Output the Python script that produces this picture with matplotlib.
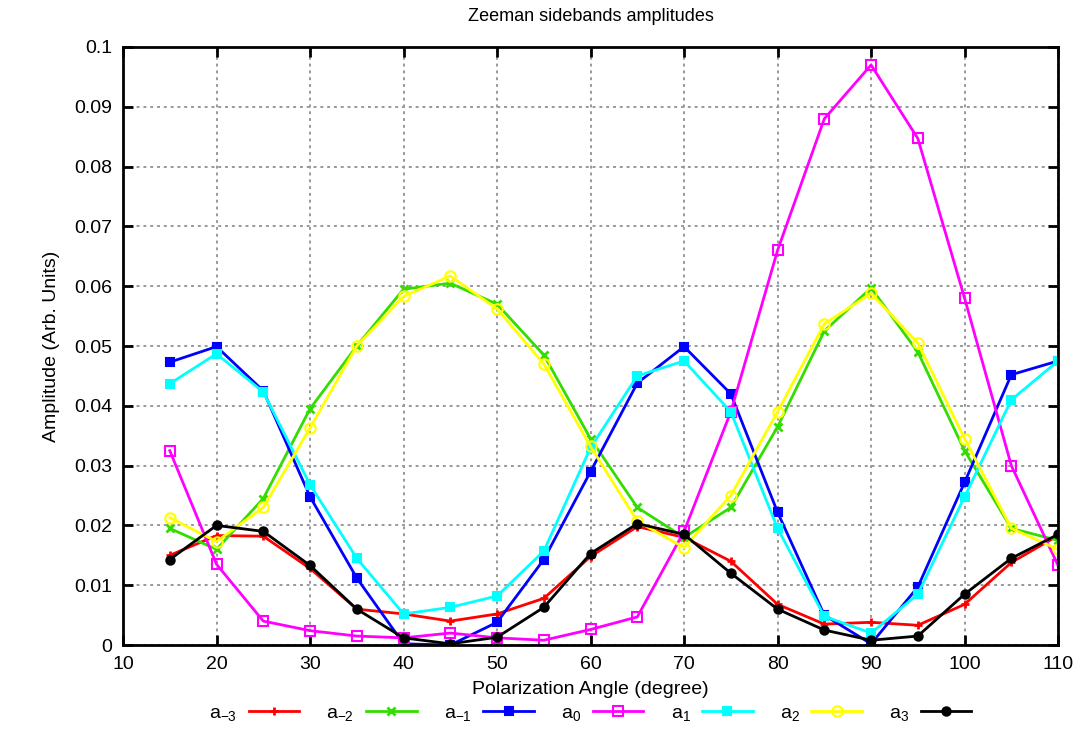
import matplotlib
matplotlib.use("Agg")
import matplotlib.pyplot as plt

plt.rcParams['font.family'] = ['Liberation Sans', 'DejaVu Sans']
plt.rcParams['mathtext.fontset'] = 'custom'
plt.rcParams['mathtext.rm'] = 'Liberation Sans'
plt.rcParams['mathtext.it'] = 'Liberation Sans'

angles = [15, 20, 25, 30, 35, 40, 45, 50, 55, 60, 65, 70, 75, 80, 85, 90, 95, 100, 105, 110]

a_m3 = [0.0150, 0.0183, 0.0182, 0.0128, 0.0060, 0.0052, 0.0040, 0.0052, 0.0078, 0.0148,
        0.0198, 0.0180, 0.0140, 0.0068, 0.0035, 0.0038, 0.0033, 0.0068, 0.0138, 0.0183]
a_m2 = [0.0195, 0.0160, 0.0245, 0.0395, 0.0500, 0.0595, 0.0605, 0.0570, 0.0485, 0.0345,
        0.0230, 0.0180, 0.0230, 0.0365, 0.0525, 0.0597, 0.0490, 0.0325, 0.0195, 0.0175]
a_m1 = [0.0473, 0.0499, 0.0425, 0.0248, 0.0112, 0.0002, 0.0000, 0.0038, 0.0143, 0.0290,
        0.0438, 0.0499, 0.0420, 0.0222, 0.0050, 0.0002, 0.0097, 0.0272, 0.0452, 0.0475]
a_0 = [0.0325, 0.0135, 0.0040, 0.0024, 0.0015, 0.0012, 0.0020, 0.0012, 0.0008, 0.0026,
       0.0047, 0.0190, 0.0390, 0.0660, 0.0880, 0.0970, 0.0847, 0.0580, 0.0300, 0.0133]
a_p1 = [0.0437, 0.0487, 0.0423, 0.0268, 0.0145, 0.0052, 0.0063, 0.0082, 0.0157, 0.0330,
        0.0450, 0.0475, 0.0390, 0.0195, 0.0048, 0.0020, 0.0085, 0.0248, 0.0410, 0.0475]
a_p2 = [0.0213, 0.0173, 0.0230, 0.0363, 0.0500, 0.0583, 0.0617, 0.0562, 0.0470, 0.0332,
        0.0207, 0.0163, 0.0250, 0.0390, 0.0537, 0.0588, 0.0505, 0.0345, 0.0195, 0.0160]
a_p3 = [0.0143, 0.0200, 0.0190, 0.0133, 0.0060, 0.0012, 0.0002, 0.0013, 0.0063, 0.0153,
        0.0203, 0.0185, 0.0120, 0.0060, 0.0025, 0.0008, 0.0015, 0.0085, 0.0145, 0.0185]

labels = ['a$_{-3}$', 'a$_{-2}$', 'a$_{-1}$', 'a$_{0}$', 'a$_{1}$', 'a$_{2}$', 'a$_{3}$']
colors = ['#ff0000', '#33dd00', '#0000ff', '#ff00ff', '#00ffff', '#ffff00', '#000000']
markers = ['+', 'x', 's', 's', 's', 'o', 'o']
filled = [True, True, True, False, True, False, True]
xticks = [10, 20, 30, 40, 50, 60, 70, 80, 90, 100, 110]
yticks = [0, 0.01, 0.02, 0.03, 0.04, 0.05, 0.06, 0.07, 0.08, 0.09, 0.1]
ytick_labels = ['0', '0.01', '0.02', '0.03', '0.04', '0.05', '0.06', '0.07', '0.08', '0.09', '0.1']

fig = plt.figure(figsize=(10.83, 7.53), dpi=100)
ax = fig.add_axes([0.1136, 0.1434, 0.8634, 0.7942])

series = [a_m3, a_m2, a_m1, a_0, a_p1, a_p2, a_p3]
for vals, lab, c, m, f in zip(series, labels, colors, markers, filled):
    if m in ('+', 'x'):
        ms, mew = 6, 2
    elif f:
        ms, mew = 6, 1.5
    else:
        ms, mew = 7.5, 1.5
    ax.plot(angles, vals, color=c, lw=2, marker=m, markersize=ms,
            markerfacecolor=c if f else 'none', markeredgecolor=c, markeredgewidth=mew,
            label=lab)

ax.set_xlim(10, 110)
ax.set_ylim(0, 0.1)
ax.set_xticks(xticks)
ax.set_yticks(yticks)
ax.set_yticklabels(ytick_labels)
ax.grid(True, color='#999999', linestyle=(0, (1.5, 2)), lw=1.4)
ax.tick_params(direction='in', length=7, width=2, top=True, right=True, labelsize=14, pad=8)
for s in ax.spines.values():
    s.set_linewidth(2)

ax.set_title('Zeeman sidebands amplitudes', fontsize=13, pad=19)
ax.set_xlabel('Polarization Angle (degree)', fontsize=14, labelpad=6)
ax.set_ylabel('Amplitude (Arb. Units)', fontsize=14, labelpad=10)

fig.legend(loc='center', bbox_to_anchor=(0.545, 0.052), ncol=7, frameon=False,
           markerfirst=False, fontsize=14, handlelength=2.6, columnspacing=1.4,
           handletextpad=0.6)

fig.savefig('out.png', dpi=100)
